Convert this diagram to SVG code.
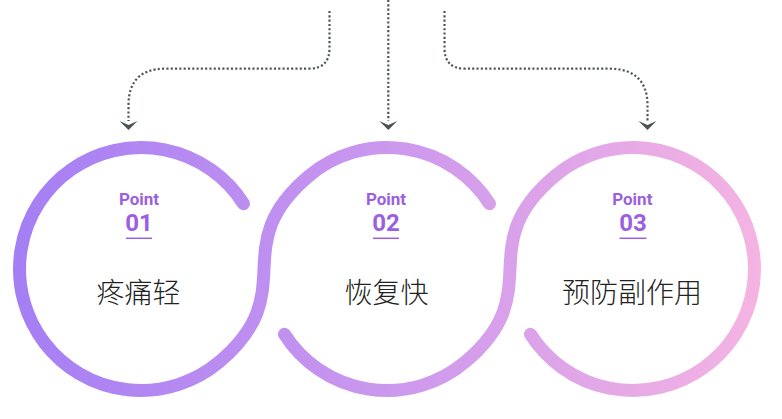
<svg xmlns="http://www.w3.org/2000/svg" width="782" height="419" viewBox="0 0 782 419">
<defs>
<linearGradient id="ring" gradientUnits="userSpaceOnUse" x1="13" y1="0" x2="765" y2="0">
<stop offset="0" stop-color="#a47ef4"/>
<stop offset="0.5" stop-color="#cc98ee"/>
<stop offset="1" stop-color="#f5b4e2"/>
</linearGradient>
<marker id="ah" markerUnits="userSpaceOnUse" markerWidth="10" markerHeight="20" viewBox="0 -10 10 20" refX="0" refY="0" orient="auto">
<path d="M0,-9 L4,0 L0,9 L9,0 Z" fill="#4b5353"/>
</marker>
<style>
.dot{fill:none;stroke:#4f5656;stroke-width:2.2;stroke-dasharray:2.1 2.2;marker-end:url(#ah)}
.ring{fill:none;stroke:url(#ring);stroke-width:13;stroke-linecap:round}
.pt{font-family:Roboto,"Liberation Sans",sans-serif;font-weight:700;fill:#9b5fe2;text-anchor:middle}
.p1{font-size:17px}
.p2{font-size:24px}
.ul{stroke:#9b5fe2;stroke-width:1.5}
.cn{font-family:"Noto Sans CJK SC","Noto Sans",sans-serif;font-size:28px;font-weight:300;fill:#222;text-anchor:middle}
</style>
</defs>
<g id="connectors">
<path class="dot" d="M329.5,11 V48 Q329.5,68.7 309,68.7 H165 C140,68.7 128.5,82 128.5,105 V121"/>
<path class="dot" d="M388.3,0 V121"/>
<path class="dot" d="M444.5,11 V48 Q444.5,68.7 465,68.7 H610 C635,68.7 647.5,82 647.5,105 V121"/>
</g>
<g id="rings">
<path class="ring" d="M243.5,203.7 A121.5,121.5 0 1 0 219.1,362.1 C303.4,291.4 224.6,246.6 308.9,175.9 A121.5,121.5 0 0 1 489.5,203.7"/>
<path class="ring" d="M284.5,334.3 A121.5,121.5 0 0 0 465.1,362.1 C549.4,291.4 470.6,246.6 554.9,175.9 A121.5,121.5 0 1 1 530.5,334.3"/>
</g>
<g id="node1">
<text class="pt p1" x="139" y="205">Point</text>
<text class="pt p2" x="139" y="231">01</text>
<line class="ul" x1="126" y1="238.3" x2="152" y2="238.3"/>
<text class="cn" x="138.5" y="303">疼痛轻</text>
</g>
<g id="node2">
<text class="pt p1" x="386" y="205">Point</text>
<text class="pt p2" x="386" y="231">02</text>
<line class="ul" x1="373" y1="238.3" x2="399" y2="238.3"/>
<text class="cn" x="386.5" y="303">恢复快</text>
</g>
<g id="node3">
<text class="pt p1" x="632.3" y="205">Point</text>
<text class="pt p2" x="633" y="231">03</text>
<line class="ul" x1="619.5" y1="238.3" x2="646.5" y2="238.3"/>
<text class="cn" x="632" y="303">预防副作用</text>
</g>
</svg>
